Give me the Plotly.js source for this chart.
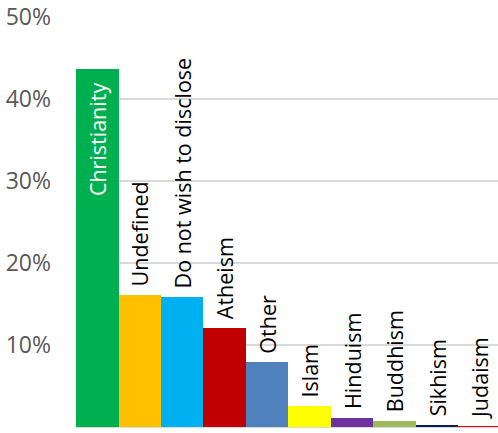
<!DOCTYPE html>
<html>
<head>
<meta charset="utf-8">
<script src="https://cdn.plot.ly/plotly-3.0.1.min.js"></script>
<style>html,body{margin:0;padding:0;background:#fff;}#chart{width:498px;height:433px;}</style>
</head>
<body>
<div id="chart"></div>
<script>
var categories = ["Christianity","Undefined","Do not wish to disclose","Atheism","Other","Islam","Hinduism","Buddhism","Sikhism","Judaism"];
var values = [43.7, 16.1, 15.85, 12.1, 7.9, 2.55, 1.15, 0.75, 0.25, 0.18];
var colors = ["#00B050","#FFC000","#00B0F0","#C00000","#4F81BD","#FFFF00","#7030A0","#9BBB59","#002060","#FF0000"];
var tickVals = [0,10,20,30,40,50];
var tickText = ["0%","10%","20%","30%","40%","50%"];

var NB = "\u00a0";
var labels = categories.map(function(c,i){ return i===0 ? c + NB + NB : NB + c; });
var textPos = categories.map(function(c,i){ return i===0 ? "inside" : "outside"; });
var textColors = categories.map(function(c,i){ return i===0 ? "#ffffff" : "#000000"; });

var trace = {
  type: "bar",
  x: categories.map(function(c,i){return i;}),
  y: values,
  text: labels,
  textposition: textPos,
  insidetextanchor: "end",
  textangle: -90,
  constraintext: "none",
  cliponaxis: false,
  textfont: {family: "Open Sans, sans-serif", size: 21.5, color: textColors},
  insidetextfont: {family: "Open Sans, sans-serif", size: 21.5, color: "#ffffff"},
  outsidetextfont: {family: "Open Sans, sans-serif", size: 21.5, color: "#000000"},
  marker: {color: colors, line: {width: 0}},
  hoverinfo: "none"
};

var layout = {
  width: 498, height: 433,
  margin: {l: 76, r: 0, t: 17, b: 6, pad: 0},
  paper_bgcolor: "#ffffff", plot_bgcolor: "#ffffff",
  bargap: 0,
  showlegend: false,
  xaxis: {range: [-0.5, 9.43], showticklabels: false, showgrid: false, zeroline: false, ticks: "", fixedrange: true},
  yaxis: {range: [0, 50], tickvals: tickVals, ticktext: tickText, showgrid: true, gridcolor: "#d9d9d9", gridwidth: 2,
          zeroline: true, zerolinecolor: "#d9d9d9", zerolinewidth: 2, ticks: "", ticklabelstandoff: 24,
          tickfont: {family: "Open Sans, sans-serif", size: 23, color: "#595959"}, fixedrange: true}
};

Plotly.newPlot("chart", [trace], layout, {displayModeBar: false, staticPlot: true});
</script>
</body>
</html>
